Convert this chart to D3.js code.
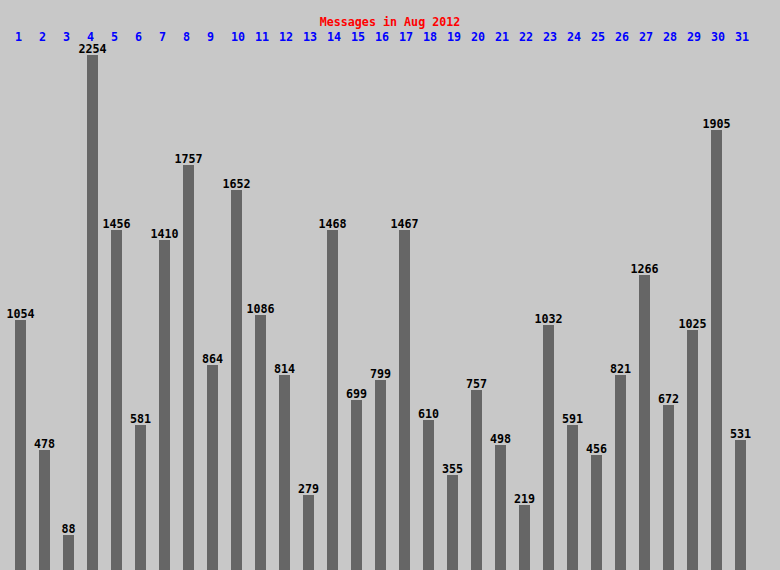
<!DOCTYPE html>
<html><head><meta charset="utf-8">
<script src="https://cdn.jsdelivr.net/npm/d3@7"></script>
<style>html,body{margin:0;padding:0;background:#c8c8c8;}svg{display:block;}</style>
</head><body>
<script>
const title = "Messages in Aug 2012";
const days = ["1","2","3","4","5","6","7","8","9","10","11","12","13","14","15","16","17","18","19","20","21","22","23","24","25","26","27","28","29","30","31"];
const messages = [1054,478,88,2254,1456,581,1410,1757,864,1652,1086,814,279,1468,699,799,1467,610,355,757,498,219,1032,591,456,821,1266,672,1025,1905,531];

const W = 780, H = 570;
const svg = d3.select("body").append("svg").attr("width", W).attr("height", H);
svg.append("rect").attr("width", W).attr("height", H).attr("fill", "#c8c8c8");

const x = d3.scaleBand().domain(days).range([15, 746]).paddingInner(13 / 24).paddingOuter(0);
const y = d3.scaleLinear().domain([0, d3.max(messages)]).range([553.5, 52.0]);
const barTop = d => H - 5 * Math.floor((H - y(d)) / 5);
const font = "'DejaVu Sans Mono', monospace";

svg.append("text").attr("x", W / 2).attr("y", 26).attr("text-anchor", "middle")
  .attr("fill", "#ff0000").attr("font-family", font).attr("font-weight", "bold").attr("font-size", 11.7)
  .text(title);

const g = svg.append("g");
g.selectAll("rect.bar").data(messages).join("rect").attr("class", "bar")
  .attr("x", (d, i) => Math.round(x(days[i]))).attr("width", Math.round(x.bandwidth()))
  .attr("y", d => barTop(d)).attr("height", d => H - barTop(d))
  .attr("fill", "#666666").attr("shape-rendering", "crispEdges");

g.selectAll("text.day").data(days).join("text").attr("class", "day")
  .attr("x", d => Math.round(x(d))).attr("y", 41)
  .attr("fill", "#0000ff").attr("font-family", font).attr("font-weight", "bold").attr("font-size", 11.7)
  .text(d => d);

g.selectAll("text.val").data(messages).join("text").attr("class", "val")
  .attr("x", (d, i) => Math.round(x(days[i])) + x.bandwidth() / 2).attr("y", d => barTop(d) - 2)
  .attr("text-anchor", "middle")
  .attr("fill", "#000000").attr("font-family", font).attr("font-weight", "bold").attr("font-size", 11.7)
  .text(d => d);
</script>
</body></html>
